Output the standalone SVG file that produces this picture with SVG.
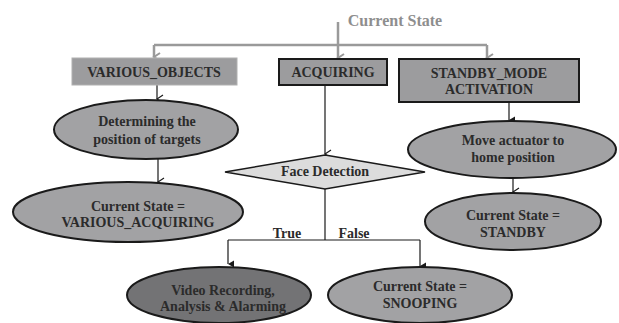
<svg xmlns="http://www.w3.org/2000/svg" width="619" height="323" viewBox="0 0 619 323" font-family="'Liberation Serif', 'DejaVu Serif', serif">
<defs>
<style>
text{font-family:'Liberation Serif','DejaVu Serif',serif;font-weight:bold;fill:#2b2b2b;text-anchor:middle;font-size:14px}
.t{font-size:16px;fill:#8e8e8e}
.box{fill:#9c9c9e;stroke:#1a1a1a;stroke-width:2}
.ell{fill:#a2a2a4;stroke:#1a1a1a;stroke-width:2}
.g{stroke:#9a9a9a;stroke-width:2.5;fill:none}
.k{stroke:#1a1a1a;stroke-width:1.2;fill:none}
</style>
<marker id="ag" markerWidth="10" markerHeight="10" refX="5" refY="8" orient="auto" markerUnits="userSpaceOnUse" viewBox="0 0 10 10">
<path d="M1,2 L5,8 L9,2" fill="none" stroke="#9a9a9a" stroke-width="2"/>
</marker>
<marker id="ak" markerWidth="10" markerHeight="10" refX="5" refY="9" orient="auto" markerUnits="userSpaceOnUse" viewBox="0 0 10 10">
<path d="M1,3 L5,9 L9,3" fill="none" stroke="#1a1a1a" stroke-width="1.2"/>
</marker>
<marker id="af" markerWidth="10" markerHeight="10" refX="5" refY="9" orient="auto" markerUnits="userSpaceOnUse" viewBox="0 0 10 10">
<path d="M1.5,3 L5,9 L8.5,3 Z" fill="#1a1a1a"/>
</marker>
</defs>
<text class="t" x="395" y="26">Current State</text>
<g id="connectors">
<path class="g" d="M338,22 V45"/>
<path class="g" d="M154,45 H487"/>
<path class="g" d="M154,45 V57" marker-end="url(#ag)"/>
<path class="g" d="M338,45 V58" marker-end="url(#ag)"/>
<path class="g" d="M487,45 V58" marker-end="url(#ag)"/>
<path class="k" d="M157,85 V99" marker-end="url(#ak)"/>
<path class="k" d="M158,159 V182" marker-end="url(#ak)"/>
<path class="k" d="M325,85 V154" marker-end="url(#ak)"/>
<path class="k" d="M509,102 V120" marker-end="url(#af)"/>
<path class="k" d="M513,178 V192" marker-end="url(#ak)"/>
<path class="k" d="M325,189 V240"/>
<path class="k" d="M228,240 H420"/>
<path class="k" d="M228,240 V264" marker-end="url(#af)"/>
<path class="k" d="M420,240 V266" marker-end="url(#af)"/>
<text x="287" y="238">True</text>
<text x="354" y="238">False</text>
</g>
<g id="various_objects">
<rect x="72" y="58" width="165" height="27" fill="#9c9c9e" stroke="#b0b0b0" stroke-width="1"/>
<text x="154" y="77" font-size="13">VARIOUS_OBJECTS</text>
</g>
<g id="acquiring">
<rect class="box" x="279" y="59" width="108" height="26"/>
<text x="333" y="77" font-size="13">ACQUIRING</text>
</g>
<g id="standby_mode">
<rect class="box" x="399" y="59" width="180" height="43"/>
<text x="489" y="78" font-size="13">STANDBY_MODE</text>
<text x="489" y="94" font-size="13">ACTIVATION</text>
</g>
<g id="determining">
<ellipse class="ell" cx="146" cy="129.5" rx="92" ry="29.5"/>
<text x="147" y="126">Determining the</text>
<text x="147" y="144">position of targets</text>
</g>
<g id="various_acquiring">
<ellipse class="ell" cx="128" cy="212" rx="115" ry="30"/>
<text x="138" y="211">Current State =</text>
<text x="138" y="227">VARIOUS_ACQUIRING</text>
</g>
<g id="face_detection">
<polygon points="325,155 425,172 325,189 225,172" fill="#dcdcdc" stroke="#1a1a1a" stroke-width="1.5"/>
<text x="325" y="176">Face Detection</text>
</g>
<g id="move_actuator">
<ellipse class="ell" cx="512" cy="149.5" rx="104" ry="28.5"/>
<text x="513" y="145">Move actuator to</text>
<text x="513" y="162">home position</text>
</g>
<g id="standby">
<ellipse class="ell" cx="513" cy="221.5" rx="88" ry="28.5"/>
<text x="513" y="220">Current State =</text>
<text x="513" y="237">STANDBY</text>
</g>
<g id="video">
<ellipse cx="219" cy="295" rx="92" ry="28" fill="#737375" stroke="#1a1a1a" stroke-width="2"/>
<text x="223" y="295">Video Recording,</text>
<text x="223" y="311">Analysis &amp; Alarming</text>
</g>
<g id="snooping">
<ellipse class="ell" cx="420" cy="295" rx="92" ry="28"/>
<text x="420" y="291">Current State =</text>
<text x="420" y="308">SNOOPING</text>
</g>
</svg>
